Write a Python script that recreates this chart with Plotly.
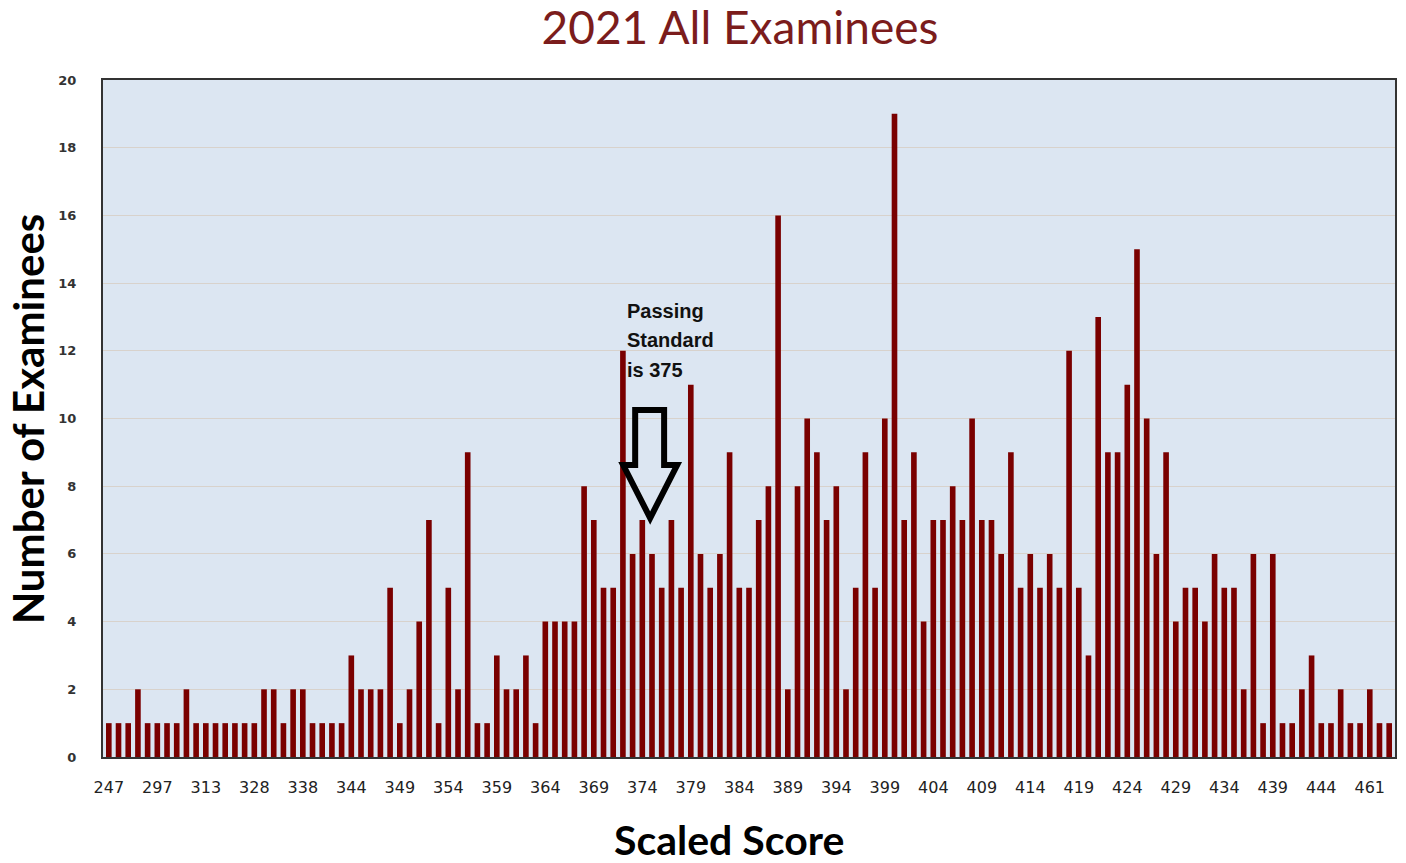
import plotly.graph_objects as go

# ---- data ----
low_scores = [247, 270, 281, 288, 293, 297, 300, 304, 307, 310, 313, 316, 319,
              322, 325, 328, 330, 332, 334, 336, 338, 339, 340, 342, 343]
mid_scores = list(range(344, 444))
high_scores = [444, 447, 450, 453, 457, 461, 465, 470]
scores = [str(s) for s in low_scores + mid_scores + high_scores]

counts = [
    1, 1, 1, 2, 1, 1, 1, 1, 2, 1, 1, 1, 1, 1, 1, 1, 2, 2, 1, 2, 2, 1, 1, 1, 1,
    3, 2, 2, 2, 5, 1, 2, 4, 7, 1, 5, 2, 9, 1, 1, 3, 2, 2, 3, 1, 4, 4, 4, 4, 8,
    7, 5, 5, 12, 6, 7, 6, 5, 7, 5, 11, 6, 5, 6, 9, 5, 5, 7, 8, 16, 2, 8, 10, 9, 7,
    8, 2, 5, 9, 5, 10, 19, 7, 9, 4, 7, 7, 8, 7, 10, 7, 7, 6, 9, 5, 6, 5, 6, 5, 12,
    5, 3, 13, 9, 9, 11, 15, 10, 6, 9, 4, 5, 5, 4, 6, 5, 5, 2, 6, 1, 6, 1, 1, 2, 3,
    1, 1, 2, 1, 1, 2, 1, 1,
]

tick_labels = ["247", "297", "313", "328", "338", "344", "349", "354", "359",
               "364", "369", "374", "379", "384", "389", "394", "399", "404",
               "409", "414", "419", "424", "429", "434", "439", "444", "461"]

y_ticks = list(range(0, 21, 2))

# page has an 8px body margin, so the figure is a bit smaller than the window
OFF = 8
W, H = 1390, 847
L, R, T, B = 95, 1, 72, 98
pw, ph = W - L - R, H - T - B


def px(x):
    # reference pixel x -> paper x
    return (x - OFF - L) / pw


def py(y):
    # reference pixel y -> paper y
    return (H - B - (y - OFF)) / ph


fig = go.Figure()
fig.add_trace(go.Bar(
    x=scores, y=counts,
    marker=dict(color="#7a0000", line=dict(width=0)),
    width=0.58,
))

# hollow arrow pointing at the passing standard
pts = [(636, 410), (665, 410), (665, 465), (678, 465), (651, 518),
       (624, 465), (636, 465)]
path = "M " + " L ".join(f"{px(a):.4f},{py(b):.4f}" for a, b in pts) + " Z"

fig.update_layout(
    width=W, height=H,
    margin=dict(l=L, r=R, t=T, b=B),
    paper_bgcolor="white",
    plot_bgcolor="#dce6f2",
    showlegend=False,
    title=dict(text="2021 All Examinees", x=(740 - OFF) / W, xanchor="center",
               y=1 - (28 - OFF) / H, yanchor="middle",
               font=dict(family="Lato", size=46, color="#7b1c1c")),
    xaxis=dict(
        type="category",
        tickmode="array", tickvals=tick_labels, ticktext=tick_labels,
        showgrid=False, ticks="", ticklabelstandoff=15,
        tickfont=dict(family="DejaVu Sans", size=16, color="#222222"),
        showline=True, linecolor="#333333", linewidth=2, mirror=True,
        range=[-0.6, len(scores) - 0.4],
    ),
    yaxis=dict(
        range=[0, 20], tickvals=y_ticks,
        showgrid=True, gridcolor="#d8d2cc", gridwidth=1,
        ticks="", ticklabelstandoff=22,
        tickfont=dict(family="DejaVu Sans", size=13, color="#333333",
                      weight="bold"),
        showline=True, linecolor="#333333", linewidth=2, mirror=True,
        zeroline=False,
    ),
    shapes=[dict(type="path", path=path, xref="paper", yref="paper",
                 line=dict(color="black", width=6), fillcolor="rgba(0,0,0,0)",
                 layer="above")],
    annotations=[
        dict(text="Scaled Score", xref="paper", yref="paper",
             x=px(730), y=py(839), showarrow=False, xanchor="center",
             yanchor="middle",
             font=dict(family="Lato", size=41, color="black", weight="bold")),
        dict(text="Number of Examinees", xref="paper", yref="paper",
             x=px(28), y=py(419), showarrow=False, textangle=-90,
             xanchor="center", yanchor="middle",
             font=dict(family="Lato", size=42, color="black", weight="bold")),
    ] + [
        dict(text=t, xref="paper", yref="paper", x=px(626), y=py(yy),
             showarrow=False, xanchor="left", yanchor="middle",
             font=dict(family="Liberation Sans", size=20, color="#111111",
                       weight="bold"))
        for t, yy in [("Passing", 311), ("Standard", 340), ("is 375", 370)]
    ],
)

fig.write_html("out.html")
